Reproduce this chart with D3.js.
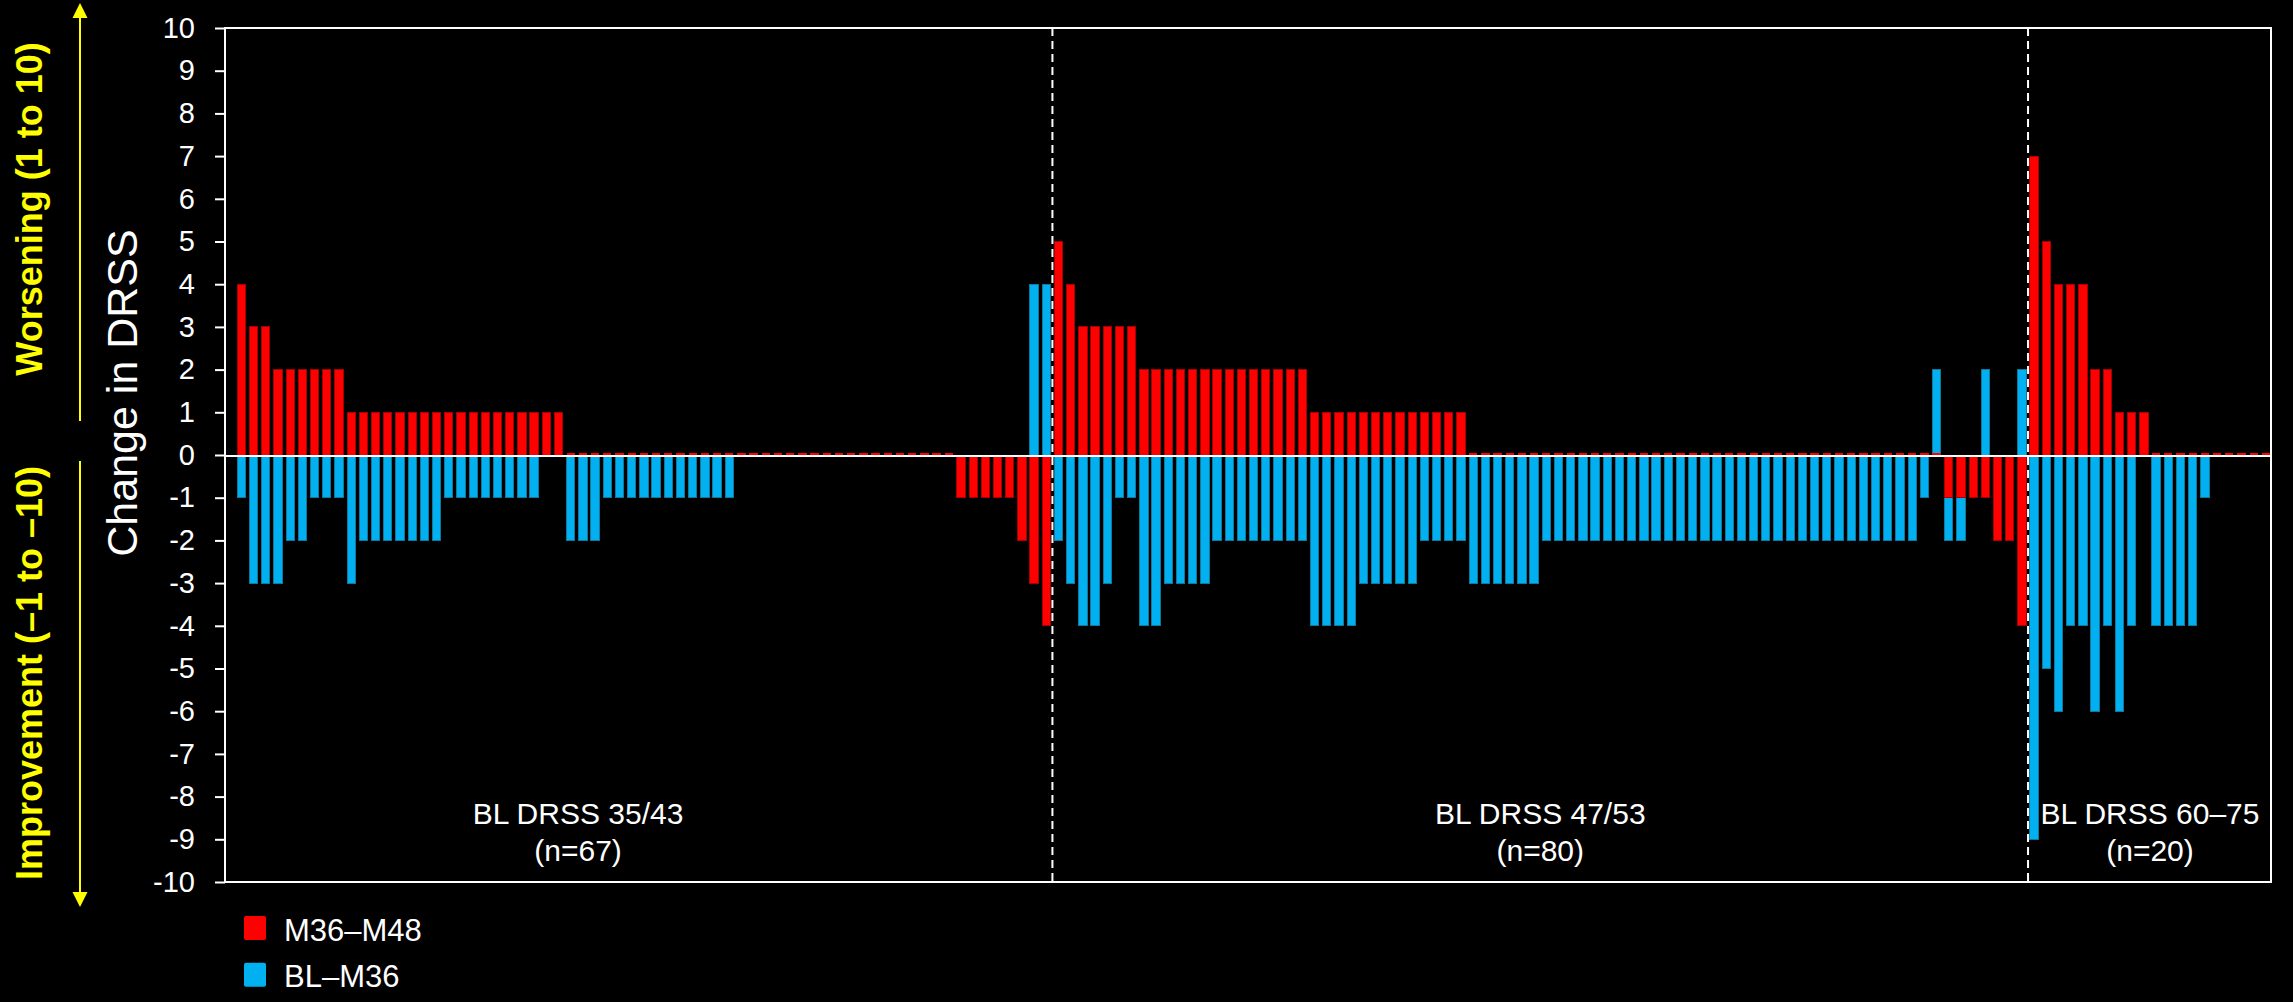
<!DOCTYPE html>
<html>
<head>
<meta charset="utf-8">
<script src="https://cdn.jsdelivr.net/npm/d3@7"></script>
<style>
  html, body { margin: 0; padding: 0; background: #000; }
  svg { display: block; }
  text { font-family: "Liberation Sans", Arial, sans-serif; }
</style>
</head>
<body>
<svg id="chart" width="2293" height="1002"></svg>
<script>
// Baseline DRSS groups
const groupNames = ["BL DRSS 35/43", "BL DRSS 47/53", "BL DRSS 60–75"];
const groupSizes = ["(n=67)", "(n=80)", "(n=20)"];

// Change in DRSS from month 36 to month 48, one value per patient
const m36m48G1 = [4, 3, 3, 2, 2, 2, 2, 2, 2,
  1, 1, 1, 1, 1, 1, 1, 1, 1, 1, 1, 1, 1, 1, 1, 1, 1, 1,
  0, 0, 0, 0, 0, 0, 0, 0, 0, 0, 0, 0, 0, 0, 0, 0,
  0, 0, 0, 0, 0, 0, 0, 0, 0, 0, 0, 0, 0, 0, 0, 0,
  -1, -1, -1, -1, -1, -2, -3, -4];
const m36m48G2 = [5, 4, 3, 3, 3, 3, 3,
  2, 2, 2, 2, 2, 2, 2, 2, 2, 2, 2, 2, 2, 2,
  1, 1, 1, 1, 1, 1, 1, 1, 1, 1, 1, 1, 1,
  0, 0, 0, 0, 0, 0, 0, 0, 0, 0, 0, 0, 0, 0, 0, 0, 0, 0, 0, 0,
  0, 0, 0, 0, 0, 0, 0, 0, 0, 0, 0, 0, 0, 0, 0, 0, 0, 0, 0,
  -1, -1, -1, -1, -2, -2, -4];
const m36m48G3 = [7, 5, 4, 4, 4, 2, 2, 1, 1, 1, 0, 0, 0, 0, 0, 0, 0, 0, 0, 0];

// Change in DRSS from baseline to month 36, same patient order
const blM36G1 = [-1, -3, -3, -3, -2, -2, -1, -1, -1, -3,
  -2, -2, -2, -2, -2, -2, -2,
  -1, -1, -1, -1, -1, -1, -1, -1,
  0, 0, -2, -2, -2,
  -1, -1, -1, -1, -1, -1, -1, -1, -1, -1, -1,
  0, 0, 0, 0, 0, 0, 0, 0, 0, 0, 0, 0, 0, 0, 0, 0, 0, 0, 0, 0, 0, 0, 0, 0,
  4, 4];
const blM36G2 = [-2, -3, -4, -4, -3, -1, -1, -4, -4,
  -3, -3, -3, -3,
  -2, -2, -2, -2, -2, -2, -2, -2,
  -4, -4, -4, -4,
  -3, -3, -3, -3, -3,
  -2, -2, -2, -2,
  -3, -3, -3, -3, -3, -3,
  -2, -2, -2, -2, -2, -2, -2, -2, -2, -2, -2, -2, -2, -2, -2, -2,
  -2, -2, -2, -2, -2, -2, -2, -2, -2, -2, -2, -2, -2, -2, -2,
  -1, 2, -2, -2, 0, 2, 0, 0, 2];
const blM36G3 = [-9, -5, -6, -4, -4, -6, -4, -6, -4, 0, -4, -4, -4, -4, -1, 0, 0, 0, 0, 0];

const yTicks = [-10, -9, -8, -7, -6, -5, -4, -3, -2, -1, 0, 1, 2, 3, 4, 5, 6, 7, 8, 9, 10];
const seriesNames = ["M36–M48", "BL–M36"];
const seriesColors = ["#ff0000", "#00b0f0"];
const seriesEdges = ["#a80000", "#13779c"];

// Flatten groups into one patient sequence
const redGroups = [m36m48G1, m36m48G2, m36m48G3];
const blueGroups = [blM36G1, blM36G2, blM36G3];
const patients = [];
redGroups.forEach((g, gi) => g.forEach((v, k) => {
  patients.push({ idx: patients.length, group: gi, red: v, blue: blueGroups[gi][k] });
}));
const groupStarts = [];
let acc = 0;
redGroups.forEach(g => { groupStarts.push(acc); acc += g.length; });

const svg = d3.select("#chart");
svg.append("rect").attr("width", 2293).attr("height", 1002).attr("fill", "#000");

const plot = { left: 225, right: 2271, top: 28, bottom: 882 };

const x = d3.scaleBand()
  .domain(d3.range(patients.length))
  .range([237.3, 2270])
  .paddingInner(0.32)
  .paddingOuter(0)
  .align(0);

const y = d3.scaleLinear().domain([-10, 10]).range([plot.bottom, plot.top]);
const y0 = y(0);

// Blue bars first, red bars on top
const bars = svg.append("g").attr("shape-rendering", "crispEdges");
bars.selectAll("rect.blue")
  .data(patients.filter(d => d.blue !== 0))
  .join("rect")
  .attr("class", "blue")
  .attr("x", d => x(d.idx))
  .attr("width", x.bandwidth())
  .attr("y", d => Math.min(y(d.blue), y0))
  .attr("height", d => Math.abs(y(d.blue) - y0))
  .attr("fill", seriesColors[1])
  .attr("stroke", seriesEdges[1])
  .attr("stroke-width", 1);

bars.selectAll("rect.red")
  .data(patients)
  .join("rect")
  .attr("class", "red")
  .attr("x", d => x(d.idx))
  .attr("width", x.bandwidth())
  .attr("y", d => d.red === 0 ? y0 - 2.5 : Math.min(y(d.red), y0))
  .attr("height", d => d.red === 0 ? 2.5 : Math.abs(y(d.red) - y0))
  .attr("fill", seriesColors[0])
  .attr("stroke", seriesEdges[0])
  .attr("stroke-width", d => d.red === 0 ? 0 : 1);

// Zero line
svg.append("line")
  .attr("x1", plot.left).attr("x2", plot.right)
  .attr("y1", y0 + 1).attr("y2", y0 + 1)
  .attr("stroke", "#fff").attr("stroke-width", 2);

// Group dividers
const step = x.step();
groupStarts.slice(1).forEach(s => {
  const gx = x(s) - step * x.paddingInner() / 2;
  svg.append("line")
    .attr("x1", gx).attr("x2", gx)
    .attr("y1", plot.top).attr("y2", plot.bottom)
    .attr("stroke", "#fff").attr("stroke-width", 2)
    .attr("stroke-dasharray", "8,5");
});

// Plot frame
svg.append("rect")
  .attr("x", plot.left).attr("y", plot.top)
  .attr("width", plot.right - plot.left).attr("height", plot.bottom - plot.top)
  .attr("fill", "none").attr("stroke", "#fff").attr("stroke-width", 2);

// Y axis
const yAxis = svg.append("g")
  .attr("transform", `translate(${plot.left},0)`)
  .call(d3.axisLeft(y).tickValues(yTicks).tickSize(10).tickPadding(20).tickFormat(d3.format("d")));
yAxis.select(".domain").remove();
yAxis.selectAll(".tick line").attr("stroke", "#fff").attr("stroke-width", 2);
yAxis.selectAll(".tick text")
  .attr("fill", "#fff")
  .style("font-size", "29px")
  .style("font-family", "'Liberation Sans', Arial, sans-serif")
  .text(d => d < 0 ? "-" + Math.abs(d) : String(d));

// Axis title
svg.append("text")
  .attr("transform", `translate(137,393) rotate(-90)`)
  .attr("text-anchor", "middle")
  .attr("fill", "#fff")
  .style("font-size", "43px")
  .text("Change in DRSS");

// Direction labels and arrows
const yellow = "#ffff00";
svg.append("text")
  .attr("transform", `translate(42,209) rotate(-90)`)
  .attr("text-anchor", "middle")
  .attr("fill", yellow)
  .style("font-size", "36px").style("font-weight", "bold")
  .text("Worsening (1 to 10)");
svg.append("text")
  .attr("transform", `translate(42,673) rotate(-90)`)
  .attr("text-anchor", "middle")
  .attr("fill", yellow)
  .style("font-size", "36px").style("font-weight", "bold")
  .text("Improvement (–1 to –10)");

svg.append("line").attr("x1", 80).attr("x2", 80).attr("y1", 16).attr("y2", 421)
  .attr("stroke", yellow).attr("stroke-width", 2);
svg.append("line").attr("x1", 80).attr("x2", 80).attr("y1", 461).attr("y2", 892)
  .attr("stroke", yellow).attr("stroke-width", 2);
svg.append("path").attr("d", "M80,3 L72.5,18 L87.5,18 Z").attr("fill", yellow);
svg.append("path").attr("d", "M80,907 L72.5,892 L87.5,892 Z").attr("fill", yellow);

// Group labels, placed along the patient axis
const labelPos = [27.6, 106.5, 156.5];
const xAt = p => x(0) + p * step + x.bandwidth() / 2;
groupNames.forEach((name, i) => {
  const t = svg.append("text")
    .attr("x", xAt(labelPos[i]))
    .attr("text-anchor", "middle")
    .attr("fill", "#fff")
    .style("font-size", "30px");
  t.append("tspan").attr("x", xAt(labelPos[i])).attr("y", 824).text(name);
  t.append("tspan").attr("x", xAt(labelPos[i])).attr("y", 861).text(groupSizes[i]);
});

// Legend
const legend = svg.append("g");
seriesNames.forEach((name, i) => {
  const ly = 916 + i * 46.7;
  legend.append("rect")
    .attr("x", 244).attr("y", ly)
    .attr("width", 22).attr("height", 24)
    .attr("rx", 2)
    .attr("fill", seriesColors[i]);
  legend.append("text")
    .attr("x", 284).attr("y", ly + 24.5)
    .attr("fill", "#fff")
    .style("font-size", "31px")
    .text(name);
});
</script>
</body>
</html>
